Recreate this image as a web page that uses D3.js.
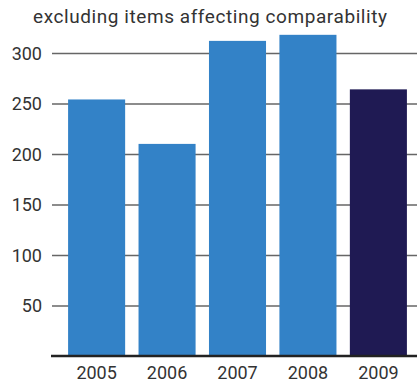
<!DOCTYPE html>
<html>
<head>
<meta charset="utf-8">
<script src="https://cdn.jsdelivr.net/npm/d3@7"></script>
<style>
  html, body { margin: 0; padding: 0; background: #fff; }
  svg text { font-family: Roboto, "Liberation Sans", sans-serif; fill: #333; }
</style>
</head>
<body>
<svg id="chart" width="417" height="388"></svg>
<script>
// Annual values, excluding items affecting comparability
const years = ["2005", "2006", "2007", "2008", "2009"];
const values = [254, 210, 312, 318, 264];
const barColors = ["#3382c7", "#3382c7", "#3382c7", "#3382c7", "#1f1a53"];
const yTicks = [50, 100, 150, 200, 250, 300];
const title = "excluding items affecting comparability";

const W = 417, H = 388;
const svg = d3.select("#chart");

const x = d3.scaleBand()
  .domain(years)
  .range([54, 421])
  .paddingInner(0.19)
  .paddingOuter(0.2);

const y = d3.scaleLinear()
  .domain([0, 300])
  .range([356, 53]);

// horizontal gridlines with value labels
const yAxis = d3.axisLeft(y)
  .tickValues(yTicks)
  .tickSize(-(W - 52))
  .tickPadding(10);

const gy = svg.append("g")
  .attr("transform", "translate(52,0)")
  .call(yAxis);
gy.select(".domain").remove();
gy.selectAll(".tick line")
  .attr("stroke", "#666")
  .attr("stroke-width", 1.6);
gy.selectAll(".tick text")
  .attr("font-size", 18)
  .attr("x", -10)
  .attr("dy", "0.35em");

// bars
svg.append("g")
  .selectAll("rect")
  .data(years)
  .join("rect")
  .attr("x", d => x(d))
  .attr("width", x.bandwidth())
  .attr("y", (d, i) => y(values[i]))
  .attr("height", (d, i) => y(0) - y(values[i]))
  .attr("fill", (d, i) => barColors[i]);

// baseline and year labels
const xAxis = d3.axisBottom(x).tickSize(0).tickPadding(10);
const gx = svg.append("g")
  .attr("transform", `translate(0,${y(0)})`)
  .call(xAxis);
gx.select(".domain").remove();
gx.selectAll(".tick text").attr("font-size", 18);

svg.append("line")
  .attr("x1", 51).attr("x2", W)
  .attr("y1", y(0)).attr("y2", y(0))
  .attr("stroke", "#222")
  .attr("stroke-width", 2.6);

// heading
svg.append("text")
  .attr("x", 210)
  .attr("y", 23)
  .attr("text-anchor", "middle")
  .attr("font-size", 19)
  .attr("textLength", 354)
  .attr("lengthAdjust", "spacing")
  .text(title);
</script>
</body>
</html>
